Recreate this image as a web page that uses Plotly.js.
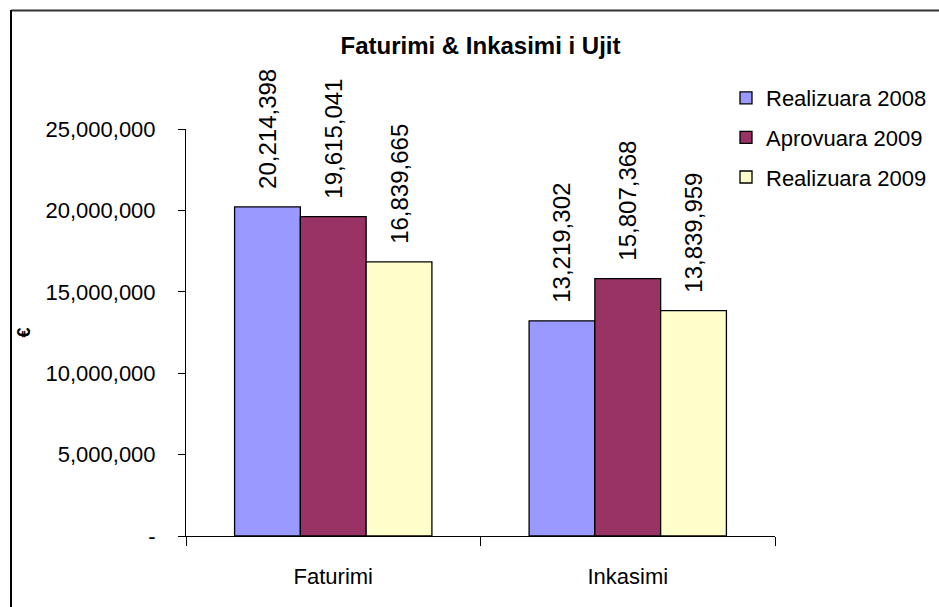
<!DOCTYPE html>
<html>
<head>
<meta charset="utf-8">
<script src="https://cdn.plot.ly/plotly-3.0.1.min.js"></script>
<style>html,body{margin:0;padding:0;background:#fff;}#chart{width:939px;height:607px;}</style>
</head>
<body>
<div id="chart"></div>
<script>
var categories = ["Faturimi", "Inkasimi"];
var seriesNames = ["Realizuara 2008", "Aprovuara 2009", "Realizuara 2009"];
var realizuara2008 = [20214398, 13219302];
var aprovuara2009 = [19615041, 15807368];
var realizuara2009 = [16839665, 13839959];
var yTickVals = [0, 5000000, 10000000, 15000000, 20000000, 25000000];
var yTickText = ["-", "5,000,000", "10,000,000", "15,000,000", "20,000,000", "25,000,000"];

var colors = ["#9999FF", "#993366", "#FFFFCC"];
var allSeries = [realizuara2008, aprovuara2009, realizuara2009];
var FONT = "Liberation Sans, Arial, sans-serif";

var traces = allSeries.map(function (vals, i) {
  return {
    type: "bar",
    name: seriesNames[i],
    x: categories,
    y: vals,
    text: vals.map(function (v) { return v.toLocaleString("en-US"); }),
    textposition: "outside",
    textangle: -90,
    constraintext: "none",
    cliponaxis: false,
    textfont: { family: FONT, size: 24, color: "#000" },
    marker: { color: colors[i], line: { color: "#000", width: 1.3 } },
    legendgroup: "g" + i,
    hoverinfo: "x+y+name"
  };
});

var layout = {
  width: 939,
  height: 607,
  margin: { l: 186, r: 164, t: 129, b: 71, autoexpand: false },
  paper_bgcolor: "#fff",
  plot_bgcolor: "#fff",
  font: { family: FONT, size: 22, color: "#000" },
  title: {
    text: "<b>Faturimi & Inkasimi i Ujit</b>",
    font: { family: FONT, size: 24, color: "#000" },
    xref: "paper", x: 0.5, xanchor: "center",
    yref: "container", y: 1 - 46 / 607, yanchor: "middle"
  },
  barmode: "group",
  bargap: 0.33,
  bargroupgap: 0,
  showlegend: true,
  legend: {
    x: (726 - 186) / 589, xanchor: "left",
    y: (536 - 77) / 407, yanchor: "top",
    font: { family: FONT, size: 22, color: "#000" },
    traceorder: "grouped",
    tracegroupgap: 8,
    itemwidth: 30,
    bgcolor: "rgba(0,0,0,0)"
  },
  xaxis: {
    type: "category",
    showline: true, linecolor: "#000", linewidth: 1,
    ticks: "outside", tickson: "boundaries", ticklen: 9, tickcolor: "#000", tickwidth: 1,
    showgrid: false, zeroline: false,
    tickfont: { family: FONT, size: 22, color: "#000" },
    ticklabelstandoff: 21
  },
  yaxis: {
    range: [0, 25000000],
    tickvals: yTickVals,
    ticktext: yTickText,
    showline: true, linecolor: "#000", linewidth: 1,
    ticks: "outside", ticklen: 7, tickcolor: "#000", tickwidth: 1,
    showgrid: false, zeroline: false,
    tickfont: { family: FONT, size: 22, color: "#000" },
    ticklabelstandoff: 18,
    title: { text: "<b>€</b>", font: { family: FONT, size: 18, color: "#000" }, standoff: 10 }
  },
  shapes: [
    { type: "line", xref: "paper", yref: "paper",
      x0: (11 - 186) / 589, x1: (939 - 186) / 589,
      y0: (536 - 10.5) / 407, y1: (536 - 10.5) / 407,
      line: { color: "#333", width: 2 } },
    { type: "line", xref: "paper", yref: "paper",
      x0: (11 - 186) / 589, x1: (11 - 186) / 589,
      y0: (536 - 10) / 407, y1: (536 - 607) / 407,
      line: { color: "#000", width: 2 } }
  ]
};

Plotly.newPlot("chart", traces, layout, { displayModeBar: false }).then(function (gd) {
  // extra gap between the value labels and the bar tops, as in the reference
  gd.querySelectorAll("g.trace.bars text.bartext").forEach(function (t) {
    var tr = t.getAttribute("transform") || "";
    t.setAttribute("transform", "translate(0,-15) " + tr);
  });
});
</script>
</body>
</html>
